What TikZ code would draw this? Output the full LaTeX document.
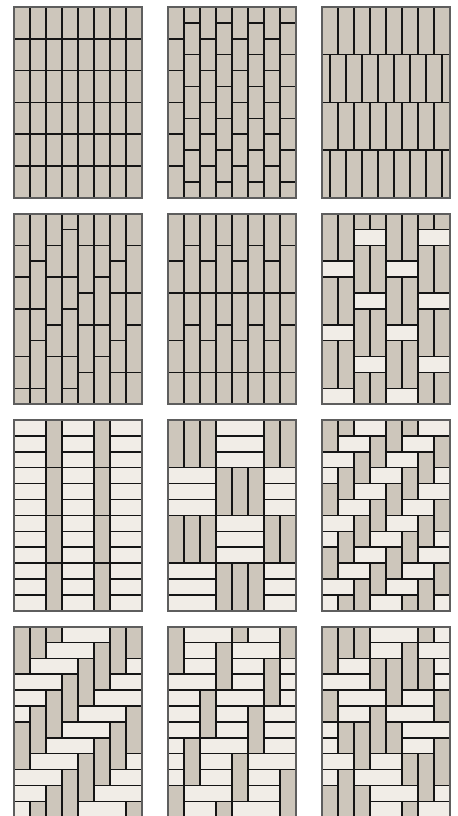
\documentclass[tikz,border=0pt]{standalone}
\usetikzlibrary{calc}
\definecolor{cTan}{HTML}{CDC6BB}
\definecolor{cLite}{HTML}{F1EDE7}
\definecolor{cInk}{HTML}{151515}
\definecolor{cEdge}{HTML}{5E5E5E}
\tikzset{
  vbrick/.style={draw=cInk, fill=cTan, line width=0.75pt},
  hbrick/.style={draw=cInk, fill=cLite, line width=0.75pt},
  frame/.style={draw=cEdge, line width=1pt},
  panel/.style={xscale=16, yscale=15.9},
}
\begin{document}
\begin{tikzpicture}[x=0.5pt,y=-0.5pt]
\useasboundingbox (0,0) rectangle (458,816);

% ---------------- row 1: stack bond, running bond, long bricks
\begin{scope}[shift={(14,7)}, panel]
\foreach \c in {0,...,7}
  \foreach \r in {0,2,...,10}
    \draw[vbrick] (\c,\r) rectangle ++(1,2);
\draw[frame] (0,0) rectangle (8,12);
\end{scope}

\begin{scope}[shift={(168,7)}, panel]
\begin{scope}
\clip (0,0) rectangle (8,12);
\foreach \c in {0,2,4,6}
  \foreach \r in {0,2,...,10}
    \draw[vbrick] (\c,\r) rectangle ++(1,2);
\foreach \c in {1,3,5,7}
  \foreach \r in {-1,1,...,11}
    \draw[vbrick] (\c,\r) rectangle ++(1,2);
\end{scope}
\draw[frame] (0,0) rectangle (8,12);
\end{scope}

\begin{scope}[shift={(322,7)}, panel]
\begin{scope}
\clip (0,0) rectangle (8,12);
\foreach \r/\o in {0/0,3/-0.5,6/0,9/-0.5}
  \foreach \c in {0,...,8}
    \draw[vbrick] ({\c+\o},\r) rectangle ++(1,3);
\end{scope}
\draw[frame] (0,0) rectangle (8,12);
\end{scope}

% ---------------- row 2: random lengths, banded, pairs with headers
\begin{scope}[shift={(14,213.5)}, panel]
\foreach \c/\t/\h in {0/0/2,0/2/2,0/4/2,0/6/3,0/9/2,0/11/1,
    1/0/3,1/3/3,1/6/2,1/8/3,1/11/1,
    2/0/2,2/2/2,2/4/3,2/7/2,2/9/3,
    3/0/1,3/1/3,3/4/2,3/6/3,3/9/2,3/11/1,
    4/0/2,4/2/3,4/5/2,4/7/3,4/10/2,
    5/0/2,5/2/2,5/4/3,5/7/2,5/9/3,
    6/0/3,6/3/2,6/5/3,6/8/2,6/10/2,
    7/0/2,7/2/3,7/5/2,7/7/3,7/10/2}
  \draw[vbrick] (\c,\t) rectangle ++(1,\h);
\draw[frame] (0,0) rectangle (8,12);
\end{scope}

\begin{scope}[shift={(168,213.5)}, panel]
\foreach \b in {0,5} {
  \foreach \c in {0,2,4,6} {
    \draw[vbrick] (\c,\b) rectangle ++(1,3);
    \draw[vbrick] (\c,\b+3) rectangle ++(1,2);
  }
  \foreach \c in {1,3,5,7} {
    \draw[vbrick] (\c,\b) rectangle ++(1,2);
    \draw[vbrick] (\c,\b+2) rectangle ++(1,3);
  }
}
\foreach \c in {0,...,7}
  \draw[vbrick] (\c,10) rectangle ++(1,2);
\draw[frame] (0,0) rectangle (8,12);
\end{scope}

\begin{scope}[shift={(322,213.5)}, panel]
\begin{scope}
\clip (0,0) rectangle (8,12);
\foreach \p/\o in {0/0,2/2,4/0,6/2}
  \foreach \k in {-1,...,3} {
    \draw[vbrick] (\p,{\o+4*\k}) rectangle ++(1,3);
    \draw[vbrick] (\p+1,{\o+4*\k}) rectangle ++(1,3);
    \draw[hbrick] (\p,{\o+4*\k+3}) rectangle ++(2,1);
  }
\end{scope}
\draw[frame] (0,0) rectangle (8,12);
\end{scope}

% ---------------- row 3: ladder, basket weave, small herringbone
\begin{scope}[shift={(14,420)}, panel]
\foreach \x in {0,3,6}
  \foreach \r in {0,...,11}
    \draw[hbrick] (\x,\r) rectangle ++(2,1);
\foreach \x in {2,5}
  \foreach \r in {0,3,6,9}
    \draw[vbrick] (\x,\r) rectangle ++(1,3);
\draw[frame] (0,0) rectangle (8,12);
\end{scope}

\begin{scope}[shift={(168,420)}, panel]
\begin{scope}
\clip (0,0) rectangle (8,12);
\foreach \i in {0,1,2}
  \foreach \j in {0,...,3} {
    \pgfmathtruncatemacro\e{mod(\i+\j,2)}
    \ifnum\e=0
      \foreach \d in {0,1,2}
        \draw[vbrick] ({3*\i+\d},{3*\j}) rectangle ++(1,3);
    \else
      \foreach \d in {0,1,2}
        \draw[hbrick] ({3*\i},{3*\j+\d}) rectangle ++(3,1);
    \fi
  }
\end{scope}
\draw[frame] (0,0) rectangle (8,12);
\end{scope}

\begin{scope}[shift={(322,420)}, panel]
\begin{scope}
\clip (0,0) rectangle (8,12);
\foreach \r in {-1,...,11}
  \foreach \k in {-1,...,5} {
    \pgfmathtruncatemacro\c{4*\k-\r}
    \draw[vbrick] (\c,\r) rectangle ++(1,2);
    \draw[hbrick] (\c+2,\r) rectangle ++(2,1);
  }
\end{scope}
\draw[frame] (0,0) rectangle (8,12);
\end{scope}

% ---------------- row 4: herringbone variants
\begin{scope}[shift={(14,626.5)}, panel]
\begin{scope}
\clip (0,0) rectangle (8,12);
\foreach \r in {-2,...,11}
  \foreach \k in {-1,...,4} {
    \pgfmathtruncatemacro\c{6*\k-\r}
    \draw[vbrick] (\c,\r) rectangle ++(1,3);
    \draw[hbrick] (\c+3,\r) rectangle ++(3,1);
  }
\end{scope}
\draw[frame] (0,0) rectangle (8,12);
\end{scope}

\begin{scope}[shift={(168,626.5)}, panel]
\begin{scope}
\clip (0,0) rectangle (8,12);
\foreach \i in {-2,...,5}
  \foreach \j in {-2,...,5} {
    \pgfmathtruncatemacro\a{3*\i-\j}
    \pgfmathtruncatemacro\b{\i+3*\j}
    \draw[vbrick] (\a,\b) rectangle ++(1,3);
    \draw[hbrick] (\a+1,\b) rectangle ++(3,1);
    \draw[hbrick] (\a+1,\b+1) rectangle ++(2,1);
    \draw[hbrick] (\a+1,\b+2) rectangle ++(2,1);
  }
\end{scope}
\draw[frame] (0,0) rectangle (8,12);
\end{scope}

\begin{scope}[shift={(322,626.5)}, panel]
\begin{scope}
\clip (0,0) rectangle (8,12);
\foreach \i in {-3,...,4}
  \foreach \j in {-3,...,4} {
    \pgfmathtruncatemacro\a{4*\i-2*\j}
    \pgfmathtruncatemacro\b{3+2*\i+4*\j}
    \draw[hbrick] (\a,\b) rectangle ++(3,1);
    \draw[hbrick] (\a+1,\b+1) rectangle ++(3,1);
    \draw[hbrick] (\a+1,\b-1) rectangle ++(2,1);
    \draw[hbrick] (\a+1,\b+2) rectangle ++(2,1);
    \draw[vbrick] (\a,\b+1) rectangle ++(1,2);
    \draw[vbrick] (\a+1,\b+3) rectangle ++(1,2);
    \draw[vbrick] (\a+2,\b+3) rectangle ++(1,3);
    \draw[vbrick] (\a+3,\b+2) rectangle ++(1,3);
  }
\end{scope}
\draw[frame] (0,0) rectangle (8,12);
\end{scope}
\end{tikzpicture}
\end{document}
